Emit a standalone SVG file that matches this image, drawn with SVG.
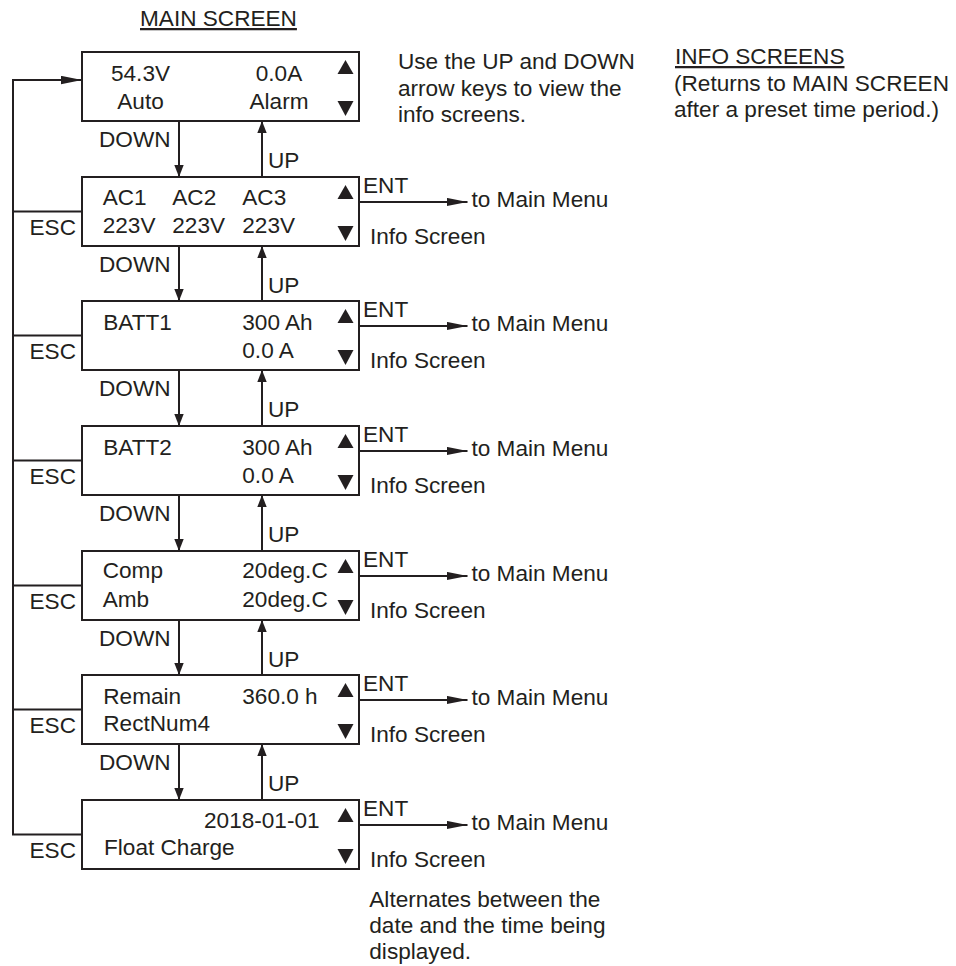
<svg xmlns="http://www.w3.org/2000/svg" width="956" height="966" viewBox="0 0 956 966">
<style>
text{font-family:"Liberation Sans",Arial,sans-serif;font-size:22.6px;fill:#231f20}
.c{text-anchor:middle}
.e{text-anchor:end}
.u{text-decoration:underline}
.box{fill:#fff;stroke:#231f20;stroke-width:2}
.tri{fill:#231f20}
.ln{fill:none;stroke:#231f20;stroke-width:2}
</style>
<defs>
<marker id="av" markerUnits="userSpaceOnUse" markerWidth="12" markerHeight="10" refX="12" refY="4.7" orient="auto"><path d="M0,0 L12,4.7 L0,9.4 z" fill="#231f20"/></marker>
<marker id="ah" markerUnits="userSpaceOnUse" markerWidth="21" markerHeight="9" refX="21" refY="4.2" orient="auto"><path d="M0,0 L21,4.2 L0,8.4 z" fill="#231f20"/></marker>
<g id="tris"><polygon points="337.5,22 353.5,22 345.5,8"/><polygon points="337.5,49 353.5,49 345.5,64"/></g>
</defs>

<text x="140" y="26" class="u">MAIN SCREEN</text>
<text x="398" y="69.3">Use the UP and DOWN</text>
<text x="398" y="95.7">arrow keys to view the</text>
<text x="398" y="121.7">info screens.</text>
<text x="675" y="64" class="u">INFO SCREENS</text>
<text x="674" y="91">(Returns to MAIN SCREEN</text>
<text x="674" y="117">after a preset time period.)</text>

<g id="connectors">
<path class="ln" d="M82,834.5 H13 V80 H82" marker-end="url(#ah)"/>
<line class="ln" x1="13" y1="211.5" x2="82" y2="211.5"/>
<line class="ln" x1="13" y1="335.5" x2="82" y2="335.5"/>
<line class="ln" x1="13" y1="460.5" x2="82" y2="460.5"/>
<line class="ln" x1="13" y1="585.5" x2="82" y2="585.5"/>
<line class="ln" x1="13" y1="709.5" x2="82" y2="709.5"/>
<line class="ln" x1="179" y1="121" x2="179" y2="177" marker-end="url(#av)"/>
<line class="ln" x1="262" y1="177" x2="262" y2="121" marker-end="url(#av)"/>
<line class="ln" x1="179" y1="246" x2="179" y2="301" marker-end="url(#av)"/>
<line class="ln" x1="262" y1="301" x2="262" y2="246" marker-end="url(#av)"/>
<line class="ln" x1="179" y1="370" x2="179" y2="426" marker-end="url(#av)"/>
<line class="ln" x1="262" y1="426" x2="262" y2="370" marker-end="url(#av)"/>
<line class="ln" x1="179" y1="495" x2="179" y2="551" marker-end="url(#av)"/>
<line class="ln" x1="262" y1="551" x2="262" y2="495" marker-end="url(#av)"/>
<line class="ln" x1="179" y1="620" x2="179" y2="675" marker-end="url(#av)"/>
<line class="ln" x1="262" y1="675" x2="262" y2="620" marker-end="url(#av)"/>
<line class="ln" x1="179" y1="744" x2="179" y2="800" marker-end="url(#av)"/>
<line class="ln" x1="262" y1="800" x2="262" y2="744" marker-end="url(#av)"/>
<line class="ln" x1="359" y1="202" x2="467.5" y2="202" marker-end="url(#ah)"/>
<line class="ln" x1="359" y1="326" x2="467.5" y2="326" marker-end="url(#ah)"/>
<line class="ln" x1="359" y1="451" x2="467.5" y2="451" marker-end="url(#ah)"/>
<line class="ln" x1="359" y1="576" x2="467.5" y2="576" marker-end="url(#ah)"/>
<line class="ln" x1="359" y1="700" x2="467.5" y2="700" marker-end="url(#ah)"/>
<line class="ln" x1="359" y1="825" x2="467.5" y2="825" marker-end="url(#ah)"/>
<text x="99" y="147">DOWN</text><text x="268" y="168">UP</text>
<text x="99" y="272">DOWN</text><text x="268" y="293">UP</text>
<text x="99" y="396">DOWN</text><text x="268" y="417">UP</text>
<text x="99" y="521">DOWN</text><text x="268" y="542">UP</text>
<text x="99" y="646">DOWN</text><text x="268" y="667">UP</text>
<text x="99" y="770">DOWN</text><text x="268" y="791">UP</text>
<text x="76" y="235" class="e">ESC</text>
<text x="76" y="359" class="e">ESC</text>
<text x="76" y="484" class="e">ESC</text>
<text x="76" y="609" class="e">ESC</text>
<text x="76" y="733" class="e">ESC</text>
<text x="76" y="858" class="e">ESC</text>
<text x="363" y="193">ENT</text><text x="471.5" y="207">to Main Menu</text><text x="370" y="244">Info Screen</text>
<text x="363" y="317">ENT</text><text x="471.5" y="331">to Main Menu</text><text x="370" y="368">Info Screen</text>
<text x="363" y="442">ENT</text><text x="471.5" y="456">to Main Menu</text><text x="370" y="493">Info Screen</text>
<text x="363" y="567">ENT</text><text x="471.5" y="581">to Main Menu</text><text x="370" y="618">Info Screen</text>
<text x="363" y="691">ENT</text><text x="471.5" y="705">to Main Menu</text><text x="370" y="742">Info Screen</text>
<text x="363" y="816">ENT</text><text x="471.5" y="830">to Main Menu</text><text x="370" y="867">Info Screen</text>
</g>

<g id="main-screen">
<rect class="box" x="82" y="52" width="277" height="69"/>
<use href="#tris" class="tri" y="52"/>
<text x="140.5" y="81" class="c">54.3V</text>
<text x="279" y="81" class="c">0.0A</text>
<text x="140.5" y="108.5" class="c">Auto</text>
<text x="279" y="108.5" class="c">Alarm</text>
</g>

<g id="ac-screen">
<rect class="box" x="82" y="177" width="277" height="69"/>
<use href="#tris" class="tri" y="177"/>
<text x="102.7" y="205">AC1</text><text x="172.3" y="205">AC2</text><text x="242.3" y="205">AC3</text>
<text x="102.7" y="233">223V</text><text x="172.3" y="233">223V</text><text x="242.3" y="233">223V</text>
</g>

<g id="batt1-screen">
<rect class="box" x="82" y="301" width="277" height="69"/>
<use href="#tris" class="tri" y="301"/>
<text x="103.3" y="330">BATT1</text><text x="242.3" y="330">300 Ah</text>
<text x="242.3" y="358">0.0 A</text>
</g>

<g id="batt2-screen">
<rect class="box" x="82" y="426" width="277" height="69"/>
<use href="#tris" class="tri" y="426"/>
<text x="103.3" y="455">BATT2</text><text x="242.3" y="455">300 Ah</text>
<text x="242.3" y="483">0.0 A</text>
</g>

<g id="temp-screen">
<rect class="box" x="82" y="551" width="277" height="69"/>
<use href="#tris" class="tri" y="551"/>
<text x="102.7" y="578">Comp</text><text x="242.3" y="578">20deg.C</text>
<text x="102.7" y="607">Amb</text><text x="242.3" y="607">20deg.C</text>
</g>

<g id="remain-screen">
<rect class="box" x="82" y="675" width="277" height="69"/>
<use href="#tris" class="tri" y="675"/>
<text x="103.3" y="704">Remain</text><text x="242.3" y="704">360.0 h</text>
<text x="103.3" y="731">RectNum4</text>
</g>

<g id="date-screen">
<rect class="box" x="82" y="800" width="277" height="69"/>
<use href="#tris" class="tri" y="800"/>
<text x="204" y="827.5">2018-01-01</text>
<text x="104" y="855">Float Charge</text>
</g>

<text x="369.3" y="907.3">Alternates between the</text>
<text x="369.3" y="933.3">date and the time being</text>
<text x="369.3" y="959">displayed.</text>
</svg>
